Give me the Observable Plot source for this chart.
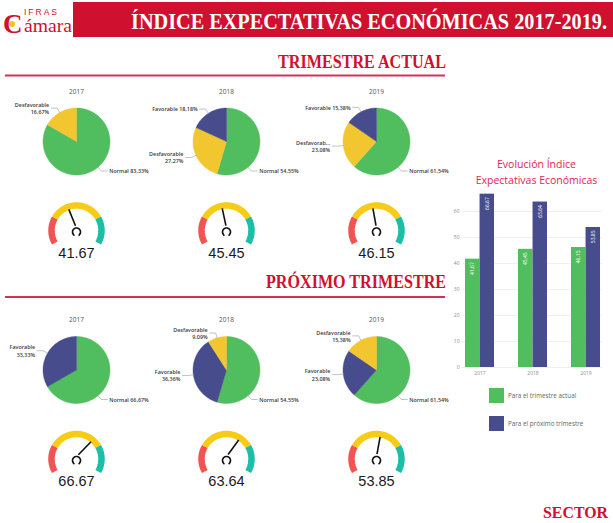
<!DOCTYPE html>
<html><head><meta charset="utf-8">
<script src="https://cdn.jsdelivr.net/npm/d3@7"></script>
<script src="https://cdn.jsdelivr.net/npm/@observablehq/plot@0.6"></script>
<style>
body{margin:0;background:#fff;}
#page{position:relative;width:613px;height:523px;overflow:hidden;background:#fff;font-family:"Open Sans",sans-serif;}
.abs{position:absolute;}
</style></head>
<body><div id="page"></div>
<script>
// ---------------- DATA ----------------
const years = ["2017", "2018", "2019"];
const categories = ["Normal", "Desfavorable", "Favorable"];
// Trimestre actual (% of responses)
const actualNormal = [83.33, 54.55, 61.54];
const actualDesfavorable = [16.67, 27.27, 23.08];
const actualFavorable = [0, 18.18, 15.38];
// Próximo trimestre (% of responses)
const proximoNormal = [66.67, 54.55, 61.54];
const proximoDesfavorable = [0, 9.09, 15.38];
const proximoFavorable = [33.33, 36.36, 23.08];
// Índice de expectativas
const indiceActual = [41.67, 45.45, 46.15];
const indiceProximo = [66.67, 63.64, 53.85];
// gauge zones (0-100)
const gaugeZones = ["bajo", "medio", "alto"];
const gaugeZoneStart = [0, 25, 75];
const gaugeZoneEnd = [25, 75, 100];
// bar chart
const seriesNames = ["Para el trimestre actual", "Para el próximo trimestre"];
const yTicks = [0, 10, 20, 30, 40, 50, 60];
// label names shortened in the original
const truncatedNames = {"actual-2019-Desfavorable": "Desfavorab..."};

// ---------------- STYLE ----------------
const GREEN = "#50be5e", YELLOW = "#f2c62e", BLUE = "#474c8c";
const ZONE_COLORS = ["#f25454", "#f6cc17", "#1dbea7"];
const RED = "#cf102f";
const page = document.getElementById("page");
function place(node, left, top) {
  const d = document.createElement("div");
  d.className = "abs";
  d.style.left = left + "px"; d.style.top = top + "px";
  d.appendChild(node); page.appendChild(d); return d;
}
const fmtPct = v => v.toFixed(2).replace(".", ",") + "%";
const rad = a => a * Math.PI / 180;
const polar = (r, a) => ({x: r * Math.sin(rad(a)), y: -r * Math.cos(rad(a))});

// ---------------- PIE + GAUGE PANEL ----------------
function panel(section, i, normal, desf, fav, indice, height, cy) {
  const year = years[i];
  const R = 33.5;
  const vals = [
    {cat: "Normal", v: normal[i]},
    {cat: "Desfavorable", v: desf[i]},
    {cat: "Favorable", v: fav[i]}
  ].filter(d => d.v > 0).sort((a, b) => b.v - a.v);
  const total = d3.sum(vals, d => d.v);
  const wedges = [], leaders = [], labelsL = [], labelsR = [];
  let acc = 0;
  vals.forEach(d => {
    const a0 = acc / total * 360, a1 = (acc + d.v) / total * 360;
    acc += d.v;
    const n = Math.max(2, Math.ceil((a1 - a0) / 2));
    wedges.push({cat: d.cat, x: 0, y: 0});
    for (let k = 0; k <= n; k++) {
      const p = polar(R, a0 + (a1 - a0) * k / n);
      wedges.push({cat: d.cat, x: p.x, y: p.y});
    }
    wedges.push({cat: d.cat, x: 0, y: 0});
    // label anchor angle
    const la = (a0 <= 140 && a1 >= 140) ? 140 : (a0 + a1) / 2;
    const p0 = polar(R * 1.0, la), p1 = polar(R * 1.15, la);
    const side = p1.x >= 0 ? 1 : -1;
    const p2 = {x: p1.x + side * 6, y: p1.y};
    [p0, p1, p2].forEach(p => leaders.push({cat: d.cat, x: p.x, y: p.y}));
    const name = truncatedNames[`${section}-${year}-${d.cat}`] || d.cat;
    const wrap = d.cat !== "Normal" && !(section === "actual" && d.cat === "Favorable");
    const text = name + (wrap ? "\n" : " ") + fmtPct(d.v);
    (side > 0 ? labelsR : labelsL).push({x: p2.x + side * 2, y: p2.y, text});
  });
  // gauge
  const G = 89, GR = 25;
  const v = indice[i];
  const ang = x => -120 + 2.4 * x;
  const zones = gaugeZones.map((z, j) => {
    const pts = [];
    for (let x = gaugeZoneStart[j]; x <= gaugeZoneEnd[j]; x += 0.5) {
      const p = polar(GR, ang(x)); pts.push({x: p.x, y: p.y + G});
    }
    return pts;
  });
  const hub = [];
  for (let a = -140; a <= 140; a += 10) { const p = polar(4, a); hub.push({x: p.x, y: p.y + G + 1.5}); }
  const tipP = polar(22.5, ang(v)), baseP = polar(3, ang(v));
  const needle = [{x1: baseP.x, y1: baseP.y + G - 2, x2: tipP.x, y2: tipP.y + G}];

  return Plot.plot({
    width: 150, height, margin: 0,
    x: {domain: [-75, 75], range: [0, 150], axis: null},
    y: {domain: [-cy, height - cy], range: [0, height], axis: null},
    color: {domain: categories, range: [GREEN, YELLOW, BLUE]},
    style: {background: "transparent", overflow: "visible"},
    marks: [
      Plot.text([year], {x: 0, y: -50, text: d => d, fontSize: 6.5, fill: "#555", fontFamily: "Open Sans"}),
      Plot.line(wedges, {x: "x", y: "y", z: "cat", fill: "cat", stroke: "cat", strokeWidth: 0.4, curve: "linear"}),
      Plot.line(leaders, {x: "x", y: "y", z: "cat", stroke: "#9a9a9a", strokeWidth: 0.6}),
      Plot.text(labelsL, {x: "x", y: "y", text: "text", textAnchor: "end", fontSize: 5.4, fill: "#3a3a3a", fontFamily: "Open Sans", fontWeight: 600, lineHeight: 1.35}),
      Plot.text(labelsR, {x: "x", y: "y", text: "text", textAnchor: "start", fontSize: 5.4, fill: "#3a3a3a", fontFamily: "Open Sans", fontWeight: 600, lineHeight: 1.35}),
      ...zones.map((pts, j) => Plot.line(pts, {x: "x", y: "y", stroke: ZONE_COLORS[j], strokeWidth: 6.5, strokeLinecap: "butt"})),
      Plot.line(hub, {x: "x", y: "y", stroke: "#111", strokeWidth: 1.6}),
      Plot.link(needle, {x1: "x1", y1: "y1", x2: "x2", y2: "y2", stroke: "#111", strokeWidth: 1.6}),
      Plot.text([v], {x: 0, y: G + 22.5, text: d => d.toFixed(2), fontSize: 14.5, fill: "#1a1a1a", fontFamily: "Liberation Sans"})
    ]
  });
}

years.forEach((y, i) => {
  place(panel("actual", i, actualNormal, actualDesfavorable, actualFavorable, indiceActual, 190, 61), i * 150 + 0.5, 80);
  place(panel("proximo", i, proximoNormal, proximoDesfavorable, proximoFavorable, indiceProximo, 200, 69.5), i * 150 + 1, 300);
});

// ---------------- BAR CHART ----------------
const barData = [];
years.forEach((y, i) => {
  barData.push({year: y, series: seriesNames[0], value: indiceActual[i]});
  barData.push({year: y, series: seriesNames[1], value: indiceProximo[i]});
});
const bW = 163, mL = 12, mR = 11, pIn = 0.46, pOut = 0.03;
const step = (bW - mL - mR) / (years.length - pIn + 2 * pOut);
const bandwidth = step * (1 - pIn);
const half = bandwidth / 2;
const fmtBar = v => v.toFixed(2).replace(".", ",");
const bars = Plot.plot({
  width: bW, height: 195, marginTop: 0, marginBottom: 13, marginLeft: mL, marginRight: mR,
  x: {domain: years, paddingInner: pIn, paddingOuter: pOut, tickSize: 0, tickPadding: 4, label: null},
  y: {domain: [0, 70], ticks: yTicks, tickSize: 0, tickPadding: 3, label: null},
  style: {background: "transparent", fontSize: "5px", color: "#8a8a8a", fontFamily: "Open Sans", overflow: "visible"},
  marks: [
    Plot.ruleY(yTicks, {stroke: "#ececec", strokeWidth: 0.8}),
    Plot.barY(barData.filter(d => d.series === seriesNames[0]), {x: "year", y: "value", fill: GREEN, insetRight: half}),
    Plot.barY(barData.filter(d => d.series === seriesNames[1]), {x: "year", y: "value", fill: BLUE, insetLeft: half}),
    Plot.text(barData.filter(d => d.series === seriesNames[0]), {x: "year", y: "value", text: d => fmtBar(d.value), dx: -half / 2, dy: 3, rotate: -90, textAnchor: "end", fill: "white", fontSize: 5}),
    Plot.text(barData.filter(d => d.series === seriesNames[1]), {x: "year", y: "value", text: d => fmtBar(d.value), dx: half / 2, dy: 3, rotate: -90, textAnchor: "end", fill: "white", fontSize: 5})
  ]
});
place(bars, 450, 185);

// bar chart title
const title = document.createElement("div");
title.style.cssText = `width:163px;text-align:center;color:#e2235a;font-family:'Open Sans';font-size:10.5px;line-height:16px;`;
title.innerHTML = "Evolución Índice<br>Expectativas Económicas";
place(title, 455, 156);

// legend
const legend = document.createElement("div");
legend.style.cssText = "font-family:'Open Sans';font-size:6.3px;color:#666;";
legend.innerHTML = seriesNames.map((s, j) =>
  `<div style="display:flex;align-items:center;height:15px;margin-bottom:13px;"><span style="display:inline-block;width:15px;height:15px;background:${[GREEN, BLUE][j]};margin-right:4px"></span>${s}</div>`
).join("");
place(legend, 489, 388);

// ---------------- HEADER / SECTION TITLES (text) ----------------
const ns = "http://www.w3.org/2000/svg";
const svg = document.createElementNS(ns, "svg");
svg.setAttribute("width", 613); svg.setAttribute("height", 523);
svg.style.cssText = "position:absolute;left:0;top:0;pointer-events:none;";
svg.innerHTML = `
  <rect x="73" y="2" width="540" height="35" fill="${RED}"/>
  <text transform="translate(131,28.5) scale(1,1.3)" x="0" y="0" fill="white" font-family="Liberation Serif" font-weight="bold" font-size="18.5" textLength="476" lengthAdjust="spacingAndGlyphs">ÍNDICE EXPECTATIVAS ECONÓMICAS 2017-2019.</text>
  <text x="3" y="33" fill="${RED}" font-family="Liberation Serif" font-weight="bold" font-size="27">C</text>
  <circle cx="12" cy="24" r="3" fill="#f4c21b"/>
  <text x="24" y="15" fill="${RED}" font-family="Liberation Sans" font-size="8.5" letter-spacing="2">IFRAS</text>
  <text x="24" y="32" fill="${RED}" font-family="Liberation Serif" font-size="18" textLength="48" lengthAdjust="spacingAndGlyphs">ámara</text>
  <text transform="translate(446,68) scale(1,1.2)" x="0" y="0" text-anchor="end" fill="${RED}" font-family="Liberation Serif" font-weight="bold" font-size="15" textLength="168" lengthAdjust="spacingAndGlyphs">TRIMESTRE ACTUAL</text>
  <rect x="5" y="74.5" width="440" height="2" fill="#d03355"/>
  <text transform="translate(446,288) scale(1,1.2)" x="0" y="0" text-anchor="end" fill="${RED}" font-family="Liberation Serif" font-weight="bold" font-size="15" textLength="180" lengthAdjust="spacingAndGlyphs">PRÓXIMO TRIMESTRE</text>
  <rect x="5" y="296" width="440" height="2" fill="#d03355"/>
  <text x="608" y="518" text-anchor="end" fill="${RED}" font-family="Liberation Serif" font-weight="bold" font-size="17" textLength="65" lengthAdjust="spacingAndGlyphs">SECTOR</text>
`;
page.appendChild(svg);
</script>
</body></html>
